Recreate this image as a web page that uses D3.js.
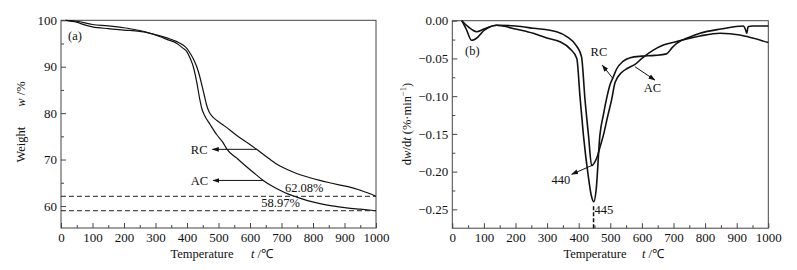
<!DOCTYPE html>
<html><head><meta charset="utf-8">
<script src="https://cdn.jsdelivr.net/npm/d3@7"></script>
<style>
body{margin:0;background:#fff;}
svg{display:block;}
svg text{font-family:"Liberation Serif","Times New Roman",Times,serif !important;fill:#111;}
</style></head>
<body><svg id="c" width="797" height="270"></svg>
<script>
// ---- data (a) TGA ----
const xTicks = [0,100,200,300,400,500,600,700,800,900,1000];
const tgaYTicks = [60,70,80,90,100];
const tgaRC_T = [15,50,75,100,150,200,250,283,336,368,387,400,410,420,431,440,448,455,462,470,480,495,520,556,590,621,660,695,720,748,780,822,860,886,920,949,975,1000];
const tgaRC_W = [100,99.6,99.0,98.6,98.2,97.9,97.6,97.2,96.2,95.4,94.7,93.9,92.9,91.7,90.0,88.0,85.8,83.8,81.8,80.3,79.3,78.4,77.2,75.3,73.7,72.2,70.2,68.6,67.8,67.0,66.3,65.5,64.9,64.5,64.0,63.4,62.8,62.08];
const tgaAC_T = [15,50,100,150,200,250,283,336,368,387,400,410,420,430,440,447,455,473,494,515,526,560,590,620,642,670,695,720,748,780,822,860,906,950,1000];
const tgaAC_W = [100,99.8,99.1,98.8,98.4,97.8,97.2,95.9,95.0,94.0,93.2,91.8,90.0,87.0,83.2,81.0,79.6,77.6,75.4,73.6,72.3,70.2,68.4,66.7,65.5,64.3,63.4,62.6,61.9,61.2,60.5,60.0,59.6,59.3,58.97];
const residues = [62.08, 58.97];
const residueLabels = ["62.08%", "58.97%"];
// ---- data (b) DTG ----
const dtgYTicks = [0,-0.05,-0.10,-0.15,-0.20,-0.25];
const dtgRC_T = [30,45,61,80,100,120,140,160,200,256,299,341,372,394,404,415,430,440,448,455,467,478,490,499,509,520,540,563,600,640,678,695,710,750,784,850,921,928,932,936,950,1000];
const dtgRC_V = [0,-0.012,-0.026,-0.022,-0.013,-0.008,-0.006,-0.007,-0.011,-0.0167,-0.023,-0.028,-0.037,-0.05,-0.10,-0.152,-0.205,-0.232,-0.240,-0.225,-0.152,-0.125,-0.100,-0.085,-0.075,-0.064,-0.054,-0.049,-0.047,-0.046,-0.044,-0.036,-0.030,-0.022,-0.0167,-0.011,-0.007,-0.012,-0.0167,-0.008,-0.007,-0.007];
const dtgAC_T = [30,50,77,100,140,200,256,330,362,394,409,420,431,441,450,458,467,478,491,504,515,535,555,578,600,636,670,710,784,847,910,950,1000];
const dtgAC_V = [0,-0.008,-0.0146,-0.011,-0.006,-0.007,-0.010,-0.0146,-0.021,-0.034,-0.048,-0.105,-0.152,-0.192,-0.188,-0.181,-0.168,-0.152,-0.128,-0.105,-0.082,-0.069,-0.063,-0.058,-0.050,-0.039,-0.032,-0.0276,-0.0203,-0.0167,-0.019,-0.023,-0.029];
const peaks = [445, 440];

const svg = d3.select("#c");
const AX = "#444";
const FF = '"Liberation Serif","Times New Roman",Times,serif';
const FS = "12.5px";

function panel(xr, yr, ydom, yticks, yminor, yfmt) {
  const x = d3.scaleLinear().domain([0,1000]).range(xr);
  const y = d3.scaleLinear().domain(ydom).range(yr);
  const g = svg.append("g");
  g.append("rect").attr("x", xr[0]).attr("y", yr[1]).attr("width", xr[1]-xr[0]).attr("height", yr[0]-yr[1])
    .attr("fill","none").attr("stroke",AX).attr("stroke-width",1);
  const bx = g.append("g").attr("transform",`translate(0,${yr[0]})`)
    .call(d3.axisBottom(x).tickValues(xTicks).tickSize(-5).tickPadding(5).tickFormat(d3.format("d")));
  const bxm = g.append("g").attr("transform",`translate(0,${yr[0]})`)
    .call(d3.axisBottom(x).tickValues(d3.range(50,1000,100)).tickSize(-3).tickFormat(""));
  const ly = g.append("g").attr("transform",`translate(${xr[0]},0)`)
    .call(d3.axisLeft(y).tickValues(yticks).tickSize(-5).tickPadding(4).tickFormat(yfmt));
  const lym = g.append("g").attr("transform",`translate(${xr[0]},0)`)
    .call(d3.axisLeft(y).tickValues(yminor).tickSize(-3).tickFormat(""));
  [bx,bxm,ly,lym].forEach(a=>{
    a.attr("font-family",FF).attr("font-size",13);
    a.select(".domain").remove();
    a.selectAll("line").attr("stroke",AX);
    a.selectAll("text").attr("fill","#111");
  });
  return {x,y,g};
}

const defs = svg.append("defs");
defs.append("marker").attr("id","ah").attr("viewBox","0 0 10 10").attr("refX",9).attr("refY",5)
  .attr("markerWidth",7).attr("markerHeight",7).attr("orient","auto-start-reverse")
  .append("path").attr("d","M0,1.5 L10,5 L0,8.5 z").attr("fill","#111");

// ---- Panel (a) ----
const A = panel([61,376],[228,20.3],[55.25,100],tgaYTicks,[65,75,85,95],d3.format("d"));
const lineA = d3.line().x(d=>A.x(d[0])).y(d=>A.y(d[1])).curve(d3.curveMonotoneX);
A.g.append("path").attr("d",lineA(d3.zip(tgaRC_T,tgaRC_W))).attr("fill","none").attr("stroke","#111").attr("stroke-width",1.2);
A.g.append("path").attr("d",lineA(d3.zip(tgaAC_T,tgaAC_W))).attr("fill","none").attr("stroke","#111").attr("stroke-width",1.2);
residues.forEach(r=>{
  A.g.append("line").attr("x1",A.x(0)).attr("x2",A.x(1000)).attr("y1",A.y(r)).attr("y2",A.y(r))
    .attr("stroke","#222").attr("stroke-width",1).attr("stroke-dasharray","5,3");
});
A.g.append("text").attr("x",A.x(772)).attr("y",A.y(residues[0])-4).attr("text-anchor","middle").style("font-size",FS).text(residueLabels[0]);
A.g.append("text").attr("x",A.x(697)).attr("y",A.y(residues[1])-4).attr("text-anchor","middle").style("font-size",FS).text(residueLabels[1]);
[[621,72.2,481,"RC"],[642,65.5,483,"AC"]].forEach(([t,w,h,lab])=>{
  A.g.append("line").attr("x1",A.x(t)).attr("y1",A.y(w)).attr("x2",A.x(h)).attr("y2",A.y(w))
    .attr("stroke","#111").attr("stroke-width",1).attr("marker-end","url(#ah)");
  A.g.append("text").attr("x",A.x(h)-5).attr("y",A.y(w)+4.5).attr("text-anchor","end").style("font-size",FS).text(lab);
});
A.g.append("text").attr("x",68).attr("y",40).style("font-size",FS).text("(a)");
svg.append("text").attr("x",202).attr("y",258).attr("text-anchor","middle").style("font-size",FS).text("Temperature");
svg.append("text").attr("x",251).attr("y",258).style("font-size",FS).html('<tspan font-style="italic">t</tspan> /℃');
svg.append("text").attr("transform","translate(25,122) rotate(-90)").attr("text-anchor","middle").style("font-size",FS)
  .html('Weight<tspan dx="20" font-style="italic">w</tspan> /%');

// ---- Panel (b) ----
const B = panel([452.3,768.3],[228.2,20.7],[-0.275,0],dtgYTicks,[-0.025,-0.075,-0.125,-0.175,-0.225],d3.format(".2f"));
const lineB = d3.line().x(d=>B.x(d[0])).y(d=>B.y(d[1])).curve(d3.curveMonotoneX);
B.g.append("path").attr("d",lineB(d3.zip(dtgRC_T,dtgRC_V))).attr("fill","none").attr("stroke","#111").attr("stroke-width",1.6);
B.g.append("path").attr("d",lineB(d3.zip(dtgAC_T,dtgAC_V))).attr("fill","none").attr("stroke","#111").attr("stroke-width",1.6);
B.g.append("line").attr("x1",B.x(447)).attr("x2",B.x(447)).attr("y1",B.y(-0.246)).attr("y2",B.y(-0.275))
  .attr("stroke","#111").attr("stroke-width",1.5).attr("stroke-dasharray","4,2");
B.g.append("text").attr("x",B.x(450)).attr("y",B.y(-0.25)+5).style("font-size",FS).text(String(peaks[0]));
B.g.append("line").attr("x1",B.x(441)).attr("y1",B.y(-0.192)).attr("x2",B.x(378)).attr("y2",B.y(-0.2036))
  .attr("stroke","#111").attr("stroke-width",1).attr("marker-end","url(#ah)");
B.g.append("text").attr("x",B.x(373)).attr("y",B.y(-0.21)+5).attr("text-anchor","end").style("font-size",FS).text(String(peaks[1]));
B.g.append("line").attr("x1",B.x(509)).attr("y1",B.y(-0.077)).attr("x2",B.x(475)).attr("y2",B.y(-0.059))
  .attr("stroke","#111").attr("stroke-width",1).attr("marker-end","url(#ah)");
B.g.append("text").attr("x",B.x(464)).attr("y",B.y(-0.047)).attr("text-anchor","middle").style("font-size",FS).text("RC");
B.g.append("line").attr("x1",B.x(578)).attr("y1",B.y(-0.061)).attr("x2",B.x(641)).attr("y2",B.y(-0.0786))
  .attr("stroke","#111").attr("stroke-width",1).attr("marker-end","url(#ah)");
B.g.append("text").attr("x",B.x(633)).attr("y",B.y(-0.0885)+5).attr("text-anchor","middle").style("font-size",FS).text("AC");
B.g.append("text").attr("x",465).attr("y",55).style("font-size",FS).text("(b)");
svg.append("text").attr("x",595).attr("y",258).attr("text-anchor","middle").style("font-size",FS).text("Temperature");
svg.append("text").attr("x",642).attr("y",258).style("font-size",FS).html('<tspan font-style="italic">t</tspan> /℃');
svg.append("text").attr("transform","translate(411,124) rotate(-90)").attr("text-anchor","middle").style("font-size",FS)
  .html('d<tspan font-style="italic">w</tspan>/d<tspan font-style="italic">t</tspan> (%·min<tspan dy="-5" font-size="8.5">−1</tspan><tspan dy="5">)</tspan>');
</script></body></html>
